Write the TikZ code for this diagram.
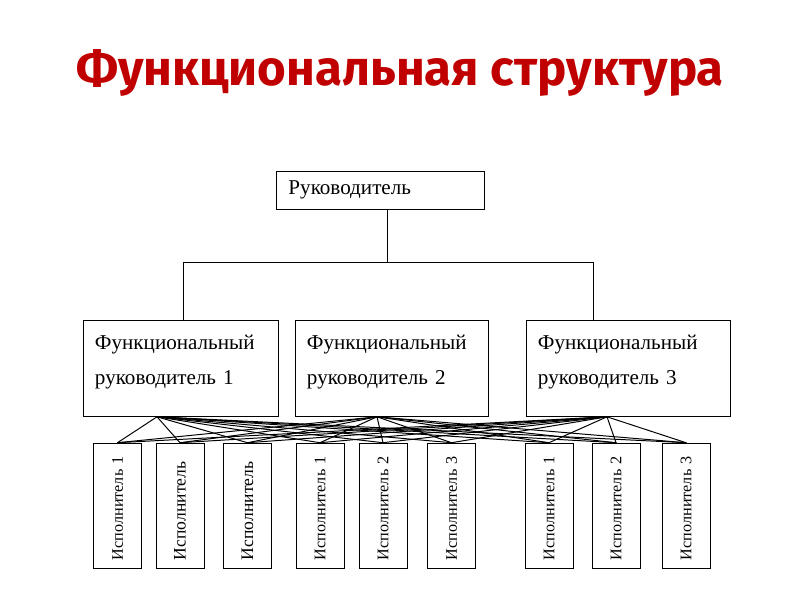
\documentclass[tikz,border=0pt]{standalone}
\usepackage{fontspec}
\setmainfont{Liberation Serif}
\newfontfamily\titlefont{Fira Sans}
\usetikzlibrary{positioning,calc}
\definecolor{titlered}{HTML}{C00000}
\tikzset{boss/.style={rectangle,draw,minimum height=.95cm,text width=4.6cm,inner xsep=.3cm,align=left,font=\fontsize{15}{18}\selectfont},fmanager/.style={rectangle,draw,minimum height=2.4cm,inner xsep=.3cm,align=left,text depth=38pt,font=\fontsize{15}{25.5}\selectfont},worker/.style={rectangle,draw,rotate=90,minimum height=1.2cm,text width=2.725cm,inner xsep=.2cm,align=left},link/.style={line width=.7pt},every picture/.style={line cap=round}}

\begin{document}
\begin{tikzpicture}[x=0.025cm,y=-0.025cm]
\useasboundingbox (0,0) rectangle (800,600);
\node[font=\titlefont\bfseries\fontsize{35}{40}\selectfont,text=titlered] (title) at (400,73) {Функциональная структура};
\node[boss] (boss) at (380.5,190) {Руководитель};
\node[fmanager,text width=4.275cm] (f1) at (180.5,368.5) {Функциональный\\руководитель 1};
\node[fmanager,text width=4.225cm] (f2) at (391.5,368.5) {Функциональный\\руководитель 2};
\node[fmanager,text width=4.5cm] (f3) at (628,368.5) {Функциональный\\руководитель 3};
\foreach \k/\x/\s/\t in {1/117.5/11.5/Исполнитель 1,2/180/12.5/Исполнитель,3/247.5/12.5/Исполнитель,4/320/11.5/Исполнитель 1,5/383/11.5/Исполнитель 2,6/451.5/11.5/Исполнитель 3,7/549/11.5/Исполнитель 1,8/616/11.5/Исполнитель 2,9/686/11.5/Исполнитель 3}{
\node[worker,font=\fontsize{\s}{\s}\selectfont] (w\k) at (\x,505.5) {\t};
}
\coordinate (bus) at (387,262);
\coordinate (busL) at (183,262);
\coordinate (busR) at (593,262);
\draw[link] (boss.south -| bus) -- (bus);
\draw[link] (busL |- f1.north) -- (busL) -- (busR) -- (busR |- f3.north);
\coordinate (fa1) at (157,0 |- f1.south);
\coordinate (fa2) at (377,0 |- f2.south);
\coordinate (fa3) at (607,0 |- f3.south);
\foreach \m in {1,2,3}{\foreach \k in {1,...,9}{\draw[link] (fa\m) -- (w\k.east);}}
\end{tikzpicture}
\end{document}
